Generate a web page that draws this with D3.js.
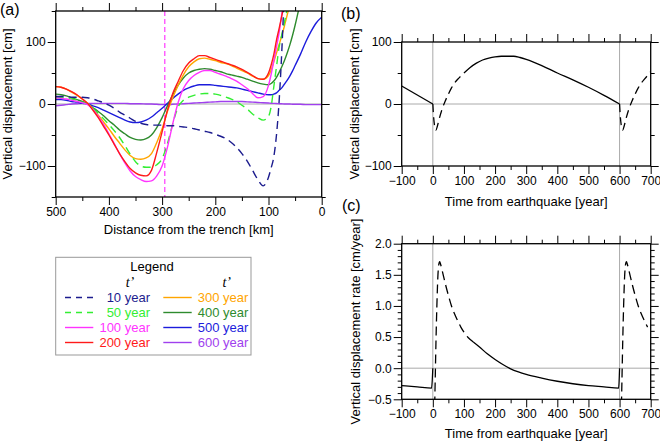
<!DOCTYPE html>
<html><head><meta charset="utf-8">
<script src="https://cdn.jsdelivr.net/npm/d3@7"></script>
<style>
body{margin:0;background:#fff}
svg{display:block;font-family:"Liberation Sans",Arial,Helvetica,sans-serif}
</style>
</head><body>
<svg id="chart" width="660" height="441"></svg>
<script>
// ---------------- Panel (a) data: distance from trench [km] ----------------
const distKm = [500,490,480,470,460,450,440,430,420,410,400,390,380,370,360,350,340,330,320,310,300,290,280,270,260,250,240,230,220,210,200,190,180,170,160,150,140,130,120,110,100,95,90,85,80,75,70,65,60,55,50,40,30,20,10,0];
const vd10  = [12,12,12,11,11,11,10,8,5,2,-2,-7,-13,-18,-23,-28,-31,-33,-34,-34,-34,-35,-35,-36,-37,-38,-40,-42,-44,-46,-49,-52,-56,-62,-70,-80,-92,-107,-122,-132,-118,-103,-85,-50,5,85,190,null,null,null,null,null,null,null,null,null];
const vd50  = [10,10,9,8,6,3,0,-7,-15,-24,-33,-43,-54,-67,-81,-93,-100,-102,-102,-98,-88,-64,-32,-5,6,11,14,16,17,17,16,14,11,8,4,-2,-8,-16,-22,-26,-20,-4,28,60,92,112,132,153,175,null,null,null,null,null,null,null];
const vd100 = [10,9,8,6,4,2,-1,-9,-20,-33,-48,-64,-80,-95,-108,-117,-122,-125,-124,-116,-100,-70,-32,2,25,38,46,51,54,54,51,48,45,41,37,31,25,17,10,12,30,48,70,92,115,145,175,null,null,null,null,null,null,null,null,null];
const vd200 = [28,27,24,20,15,8,1,-10,-22,-36,-50,-65,-80,-93,-104,-111,-115,-116,-107,-78,-45,-10,17,36,54,66,73,78,78,75,72,69,66,63,60,56,51,46,41,40,50,63,80,103,122,142,165,null,null,null,null,null,null,null,null,null];
const vd300 = [28,27,24,19,14,8,1,-8,-18,-29,-40,-52,-63,-74,-83,-88,-89,-87,-80,-62,-40,-12,10,30,47,60,68,73,74,72,70,67,65,62,58,54,50,45,41,40,46,55,68,82,96,110,126,143,160,180,null,null,null,null,null,null];
const vd400 = [16,15,13,10,7,4,0,-6,-12,-19,-27,-34,-42,-48,-54,-57,-58,-56,-50,-38,-22,-3,15,30,42,50,54,56,57,56,54,52,49,47,45,43,40,37,34,32,31,33,37,43,51,60,70,82,95,110,127,165,null,null,null,null];
const vd500 = [7,7,6,4,3,1,0,-3,-6,-10,-14,-18,-22,-26,-29,-30,-29,-26,-21,-14,-7,1,9,16,22,26,29,31,31,31,30,29,28,27,26,24,22,20,18,16,15,15,16,18,22,26,32,38,45,53,62,80,100,117,131,140];
const vd600 = [-3,-2,-1,0,0.5,1,1,1,1,1,1,1,1,1,0.5,0.5,0.5,0,0,-0.5,-1,-1,-0.5,0,0.5,1,1.5,2,2.5,3,3.5,4,4,4,4,4,3.5,3,2.5,2,1.5,1.2,1,0.8,0.5,0.3,0,0,0,-0.3,-0.5,-0.5,-1,-1,-1,-1];
const markerKm = 295;

const seriesLabels = ["10 year","50 year","100 year","200 year","300 year","400 year","500 year","600 year"];
const seriesColors = ["#1c1c8e","#33ee33","#ff33ff","#ff1a1a","#ffa500","#2e8b2e","#1c1cdc","#a040ee"];
const seriesDashed = [true,true,false,false,false,false,false,false];
const seriesValues = [vd10,vd50,vd100,vd200,vd300,vd400,vd500,vd600];

// ---------------- Panel (b) data: displacement vs time ----------------
const bTimeA = [-100,0];
const bValA  = [29,0];
const bTimeB = [0,2,5,10,15,20,30,40,50,60,70,80,90,100];
const bValB  = [0,-17,-33,-42,-35,-25,-8,5,16,26,34,40,45,50];
const bTimeC = [100,120,140,160,180,200,220,240,260,280,300,350,400,450,500,550,600];
const bValC  = [50,59,66,71,74,76,77,77,77,75,72,62,50,39,27,14,0];
const bTimeD = [600,602,605,610,615,620,630,640,650,660,670,680,690,700];
const bValD  = [0,-17,-33,-42,-35,-25,-8,5,16,26,34,40,46,52];

// ---------------- Panel (c) data: rate vs time ----------------
const cTimeA = [-100,-50,-4,0];
const cValA  = [-0.28,-0.30,-0.32,0.0];
const cTimeB = [6,8,10,13,16,19,22,25,30,40,50,60,70,80,90,100,110,120,130];
const cValB  = [-0.6,-0.1,0.4,1.0,1.45,1.66,1.71,1.67,1.57,1.36,1.17,1.0,0.87,0.76,0.66,0.58,0.51,0.46,0.42];
const cTimeC = [130,150,175,200,225,250,275,300,350,400,450,500,550,597,600];
const cValC  = [0.42,0.34,0.23,0.14,0.06,-0.01,-0.06,-0.10,-0.16,-0.21,-0.25,-0.28,-0.30,-0.32,0.0];
const cTimeD = [606,608,610,613,616,619,622,625,630,640,650,660,670,680,690];
const cValD  = [-0.6,-0.1,0.4,1.0,1.45,1.66,1.71,1.67,1.57,1.36,1.17,1.0,0.87,0.76,0.66];

// ---------------- Drawing ----------------
const svg = d3.select("#chart");
const FONT = '"Liberation Sans",Arial,Helvetica,sans-serif';

function axes(g, x, y, o){
  const [x0,x1] = x.range(), [yb,yt] = y.range();
  const style = sel => { sel.select(".domain").remove(); sel.attr("font-size",12).attr("font-family",FONT); sel.selectAll("line").attr("stroke","#000"); };
  g.append("g").attr("transform",`translate(0,${yb})`).call(d3.axisBottom(x).tickValues(o.xMajor).tickSize(8).tickPadding(2).tickFormat(o.xFmt)).call(style);
  g.append("g").attr("transform",`translate(0,${yb})`).call(d3.axisBottom(x).tickValues(o.xMinor).tickSize(4).tickFormat("")).call(style);
  g.append("g").attr("transform",`translate(0,${yt})`).call(d3.axisTop(x).tickValues(o.xMajor).tickSize(8).tickFormat("")).call(style);
  g.append("g").attr("transform",`translate(0,${yt})`).call(d3.axisTop(x).tickValues(o.xMinor).tickSize(4).tickFormat("")).call(style);
  g.append("g").attr("transform",`translate(${x0},0)`).call(d3.axisLeft(y).tickValues(o.yMajor).tickSize(8).tickPadding(2).tickFormat(o.yFmt)).call(style);
  g.append("g").attr("transform",`translate(${x0},0)`).call(d3.axisLeft(y).tickValues(o.yMinor).tickSize(4).tickFormat("")).call(style);
  g.append("g").attr("transform",`translate(${x1},0)`).call(d3.axisRight(y).tickValues(o.yMajor).tickSize(8).tickFormat("")).call(style);
  g.append("g").attr("transform",`translate(${x1},0)`).call(d3.axisRight(y).tickValues(o.yMinor).tickSize(4).tickFormat("")).call(style);
}
function frame(g, x, y){
  const [x0,x1] = x.range(), [yb,yt] = y.range();
  g.append("rect").attr("x",x0).attr("y",yt).attr("width",x1-x0).attr("height",yb-yt)
    .attr("fill","none").attr("stroke","#000").attr("stroke-width",1.3);
}
function clip(id, x, y){
  const [x0,x1] = x.range(), [yb,yt] = y.range();
  svg.append("clipPath").attr("id",id).append("rect").attr("x",x0).attr("y",yt).attr("width",x1-x0).attr("height",yb-yt);
}
function title(txt, x, y, rot){
  svg.append("text").attr("transform",`translate(${x},${y})${rot?" rotate(-90)":""}`)
    .attr("text-anchor","middle").attr("dominant-baseline","central")
    .attr("font-size",13).attr("fill","#000").text(txt);
}

// ===== Panel (a) =====
const xa = d3.scaleLinear().domain([500,0]).range([55.7,321.7]);
const ya = d3.scaleLinear().domain([-150,150]).range([197,11]);
clip("clipA", xa, ya);
const ga = svg.append("g");
const gaData = ga.append("g").attr("clip-path","url(#clipA)");
gaData.append("line").attr("x1",xa(500)).attr("x2",xa(0)).attr("y1",ya(0)).attr("y2",ya(0)).attr("stroke","#aaa").attr("stroke-width",1);
gaData.append("line").attr("x1",xa(markerKm)).attr("x2",xa(markerKm)).attr("y1",ya(150)).attr("y2",ya(-150))
  .attr("stroke","#ff55ff").attr("stroke-width",1.4).attr("stroke-dasharray","5,3");
const lineA = d3.line().defined(d => d[1] !== null).x(d => xa(d[0])).y(d => ya(d[1])).curve(d3.curveMonotoneX);
const drawOrder = [7,6,5,4,1,2,3,0];
drawOrder.forEach(i => {
  const pts = distKm.map((d,j) => [d, seriesValues[i][j]]);
  gaData.append("path").datum(pts).attr("d",lineA).attr("fill","none")
    .attr("stroke",seriesColors[i]).attr("stroke-width",1.4)
    .attr("stroke-dasharray",seriesDashed[i]?"8,5":null);
});
axes(ga, xa, ya, {xMajor:[500,400,300,200,100,0], xMinor:[450,350,250,150,50], xFmt:d3.format("d"),
                  yMajor:[-100,0,100], yMinor:[-150,-50,50,150], yFmt:d3.format("d")});
frame(ga, xa, ya);
title("Distance from the trench [km]", 188.7, 229, false);
title("Vertical displacement [cm]", 7, 104, true);
svg.append("text").attr("x",0).attr("y",15).attr("font-size",16).text("(a)");

// ===== Panel (b) =====
const xb = d3.scaleLinear().domain([-100,700]).range([401.7,650.7]);
const yb = d3.scaleLinear().domain([-100,100]).range([166,42]);
clip("clipB", xb, yb);
const gb = svg.append("g");
const gbData = gb.append("g").attr("clip-path","url(#clipB)");
gbData.append("line").attr("x1",xb(-100)).attr("x2",xb(700)).attr("y1",yb(0)).attr("y2",yb(0)).attr("stroke","#aaa");
[0,600].forEach(t => gbData.append("line").attr("x1",xb(t)).attr("x2",xb(t)).attr("y1",yb(100)).attr("y2",yb(-100)).attr("stroke","#aaa"));
const lineB = d3.line().x(d => xb(d[0])).y(d => yb(d[1])).curve(d3.curveMonotoneX);
[[bTimeA,bValA,false],[bTimeB,bValB,true],[bTimeC,bValC,false],[bTimeD,bValD,true]].forEach(([t,v,dash]) => {
  gbData.append("path").datum(t.map((d,j)=>[d,v[j]])).attr("d",lineB).attr("fill","none")
    .attr("stroke","#000").attr("stroke-width",1.3).attr("stroke-dasharray",dash?"8,5":null);
});
const tMajor = [-100,0,100,200,300,400,500,600,700], tMinor = [-50,50,150,250,350,450,550,650];
axes(gb, xb, yb, {xMajor:tMajor, xMinor:tMinor, xFmt:d3.format("d"), yMajor:[-100,0,100], yMinor:[-50,50], yFmt:d3.format("d")});
frame(gb, xb, yb);
title("Time from earthquake [year]", 526.2, 201.7, false);
title("Vertical displacement [cm]", 354, 104, true);
svg.append("text").attr("x",341).attr("y",19).attr("font-size",16).text("(b)");

// ===== Panel (c) =====
const xc = d3.scaleLinear().domain([-100,700]).range([401.7,650.7]);
const yc = d3.scaleLinear().domain([-0.5,2.0]).range([399.3,243.7]);
clip("clipC", xc, yc);
const gc = svg.append("g");
const gcData = gc.append("g").attr("clip-path","url(#clipC)");
gcData.append("line").attr("x1",xc(-100)).attr("x2",xc(700)).attr("y1",yc(0)).attr("y2",yc(0)).attr("stroke","#aaa");
[0,600].forEach(t => gcData.append("line").attr("x1",xc(t)).attr("x2",xc(t)).attr("y1",yc(2)).attr("y2",yc(-0.5)).attr("stroke","#aaa"));
const lineC = d3.line().x(d => xc(d[0])).y(d => yc(d[1])).curve(d3.curveMonotoneX);
[[cTimeA,cValA,false],[cTimeB,cValB,true],[cTimeC,cValC,false],[cTimeD,cValD,true]].forEach(([t,v,dash]) => {
  gcData.append("path").datum(t.map((d,j)=>[d,v[j]])).attr("d",lineC).attr("fill","none")
    .attr("stroke","#000").attr("stroke-width",1.3).attr("stroke-dasharray",dash?"9,5":null);
});
const cMinor = d3.range(-5,21).filter(k => k % 5 !== 0).map(k => k/10);
axes(gc, xc, yc, {xMajor:tMajor, xMinor:tMinor, xFmt:d3.format("d"), yMajor:[-0.5,0,0.5,1,1.5,2], yMinor:cMinor, yFmt:d3.format(".1f")});
frame(gc, xc, yc);
title("Time from earthquake [year]", 526.2, 433, false);
title("Vertical displacement rate [cm/year]", 355, 321.5, true);
svg.append("text").attr("x",342).attr("y",211).attr("font-size",16).text("(c)");

// ===== Legend =====
const lg = svg.append("g");
lg.append("rect").attr("x",55.7).attr("y",257.3).attr("width",195.3).attr("height",97.7).attr("fill","#fff").attr("stroke","#999").attr("stroke-width",1);
lg.append("text").attr("x",152).attr("y",266.5).attr("text-anchor","middle").attr("dominant-baseline","central").attr("font-size",13).text("Legend");
[130,226.7].forEach(x => lg.append("text").attr("x",x).attr("y",286.5).attr("text-anchor","middle")
  .attr("font-family",'"Liberation Serif","Times New Roman",serif').attr("font-style","italic").attr("font-size",14).text("t\u2019"));
seriesLabels.forEach((lab,i) => {
  const col = Math.floor(i/4), row = i%4;
  const y = 297.5 + row*15;
  const lx0 = col ? 163.3 : 65, lx1 = col ? 191.7 : 93.3, tx = col ? 248.3 : 150;
  lg.append("line").attr("x1",lx0).attr("x2",lx1).attr("y1",y).attr("y2",y).attr("stroke",seriesColors[i]).attr("stroke-width",1.4)
    .attr("stroke-dasharray",seriesDashed[i]?"6,5":null);
  lg.append("text").attr("x",tx).attr("y",y).attr("text-anchor","end").attr("dominant-baseline","central")
    .attr("font-size",13).attr("fill",seriesColors[i]).text(lab);
});
</script>
</body></html>
